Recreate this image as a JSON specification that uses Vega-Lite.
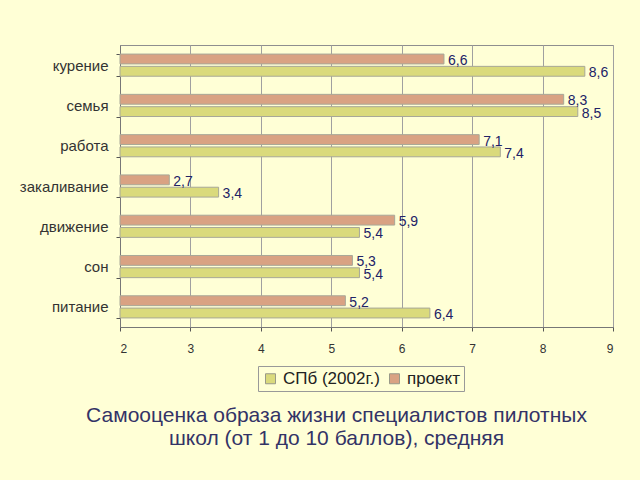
{
  "$schema": "https://vega.github.io/schema/vega-lite/v6.json",
  "width": 493,
  "height": 282,
  "autosize": {"type": "none"},
  "padding": {"left": 120, "top": 45, "right": 27, "bottom": 153},
  "background": "#FFFFD6",
  "config": {
    "font": "Liberation Sans",
    "view": {"stroke": "#8f8f8f", "strokeWidth": 1},
    "locale": {"number": {"decimal": ",", "thousands": " ", "grouping": [3], "currency": ["", ""]}}
  },
  "title": {
    "text": ["Самооценка образа жизни специалистов пилотных", "школ (от 1 до 10 баллов), средняя"],
    "orient": "bottom",
    "anchor": "middle",
    "dx": -30,
    "offset": 13,
    "fontSize": 21,
    "fontWeight": "normal",
    "color": "#333366",
    "lineHeight": 23
  },
  "data": {
    "values": [
      {"cat": "курение", "series": "проект", "v": 6.6},
      {"cat": "курение", "series": "СПб (2002г.)", "v": 8.6},
      {"cat": "семья", "series": "проект", "v": 8.3},
      {"cat": "семья", "series": "СПб (2002г.)", "v": 8.5},
      {"cat": "работа", "series": "проект", "v": 7.1},
      {"cat": "работа", "series": "СПб (2002г.)", "v": 7.4},
      {"cat": "закаливание", "series": "проект", "v": 2.7},
      {"cat": "закаливание", "series": "СПб (2002г.)", "v": 3.4},
      {"cat": "движение", "series": "проект", "v": 5.9},
      {"cat": "движение", "series": "СПб (2002г.)", "v": 5.4},
      {"cat": "сон", "series": "проект", "v": 5.3},
      {"cat": "сон", "series": "СПб (2002г.)", "v": 5.4},
      {"cat": "питание", "series": "проект", "v": 5.2},
      {"cat": "питание", "series": "СПб (2002г.)", "v": 6.4}
    ]
  },
  "encoding": {
    "y": {
      "field": "cat", "type": "nominal", "sort": null,
      "scale": {"paddingInner": 0.45, "paddingOuter": 0.225},
      "axis": {
        "title": null, "tickBand": "extent", "grid": false,
        "labelFontSize": 15, "labelColor": "#333333", "labelPadding": 8,
        "tickSize": 4, "tickColor": "#555555", "domainColor": "#777777"
      }
    },
    "yOffset": {
      "field": "series", "type": "nominal",
      "scale": {"domain": ["проект", "СПб (2002г.)"], "paddingInner": 0.2}
    },
    "x": {
      "field": "v", "type": "quantitative",
      "scale": {"domain": [2, 9], "nice": false, "zero": false},
      "axis": {
        "title": null, "values": [2, 3, 4, 5, 6, 7, 8, 9], "format": "d",
        "grid": true, "gridColor": "#a0a0a0", "gridWidth": 1,
        "labelFontSize": 12, "labelColor": "#333333", "labelPadding": 12,
        "tickSize": 4, "tickColor": "#555555", "domainColor": "#777777"
      }
    }
  },
  "layer": [
    {
      "mark": {"type": "bar", "stroke": "#a8a898", "strokeWidth": 1},
      "encoding": {
        "x2": {"datum": 2},
        "color": {
          "field": "series", "type": "nominal",
          "scale": {"domain": ["СПб (2002г.)", "проект"], "range": ["#DADA7C", "#D9A283"]},
          "legend": {
            "title": null, "orient": "none", "direction": "horizontal",
            "legendX": 138, "legendY": 321,
            "symbolType": "square", "symbolSize": 100, "symbolStrokeColor": "#999988", "symbolStrokeWidth": 1,
            "labelFontSize": 17, "labelColor": "#222222",
            "strokeColor": "#999999", "fillColor": "#FFFFD6", "padding": 4,
            "columnPadding": 6
          }
        }
      }
    },
    {
      "mark": {"type": "text", "align": "left", "dx": 4, "dy": 2, "fontSize": 14, "color": "#222266"},
      "encoding": {
        "text": {"field": "v", "type": "quantitative", "format": ".1f"}
      }
    }
  ]
}
